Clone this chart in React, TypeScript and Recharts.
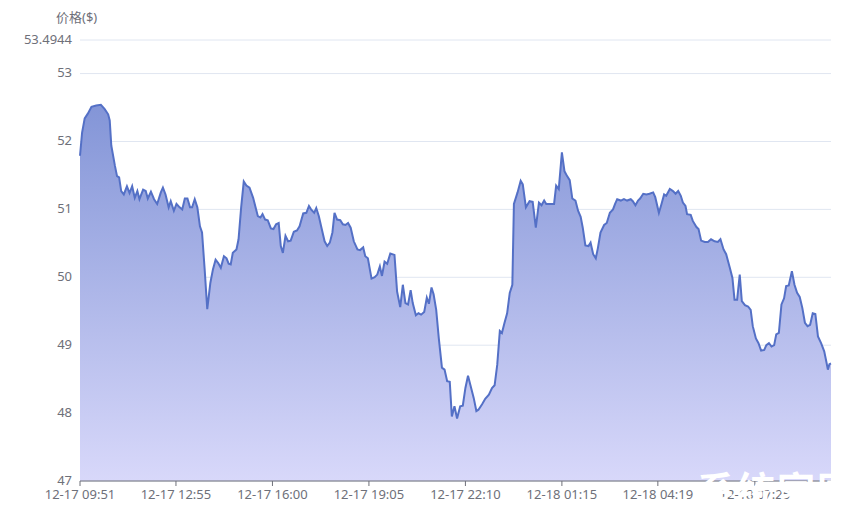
import { AreaChart, Area, XAxis, YAxis, CartesianGrid } from 'recharts'

document.body.style.margin = '0'

// minutes after 12-17 09:51
const minutes = [
  0, 4, 9, 15, 22, 31, 40, 47, 54, 57,
  60, 67, 71, 75, 79, 84, 90, 95, 100, 105,
  110, 114, 121, 126, 130, 136, 142, 148, 155, 159,
  164, 170, 174, 180, 185, 191, 196, 201, 206, 211,
  215, 220, 225, 230, 234, 239, 244, 250, 255, 260,
  265, 270, 276, 281, 285, 289, 293, 300, 304, 309,
  314, 319, 325, 332, 336, 341, 346, 350, 355, 360,
  366, 371, 376, 381, 385, 389, 394, 399, 404, 410,
  416, 421, 428, 434, 439, 443, 449, 453, 458, 463,
  469, 474, 479, 484, 488, 493, 499, 504, 509, 514,
  519, 525, 532, 537, 543, 547, 552, 559, 565, 570,
  575, 579, 584, 589, 595, 603, 608, 614, 619, 624,
  629, 634, 638, 644, 649, 654, 660, 665, 669, 674,
  678, 683, 688, 694, 699, 704, 709, 713, 718, 723,
  729, 734, 739, 744, 750, 755, 760, 764, 771, 777,
  784, 790, 795, 800, 805, 809, 814, 819, 824, 829,
  832, 839, 845, 849, 855, 862, 868, 874, 880, 885,
  890, 894, 901, 909, 913, 918, 924, 929, 934, 939,
  944, 950, 955, 960, 964, 969, 975, 979, 984, 989,
  993, 998, 1005, 1010, 1016, 1022, 1026, 1030, 1037, 1043,
  1049, 1056, 1060, 1065, 1070, 1074, 1080, 1086, 1092, 1099,
  1103, 1110, 1115, 1120, 1124, 1131, 1137, 1142, 1147, 1152,
  1156, 1161, 1164, 1171, 1175, 1182, 1186, 1191, 1198, 1204,
  1210, 1217, 1223, 1228, 1234, 1239, 1246, 1251, 1255, 1260,
  1265, 1269, 1275, 1281, 1286, 1290, 1296, 1301, 1306, 1312,
  1316, 1321, 1326, 1331, 1335, 1340, 1345, 1350, 1354, 1359,
  1365, 1370, 1375, 1380, 1385, 1390, 1395, 1400, 1405, 1410,
  1415, 1421, 1427, 1431, 1434, 1437, 1440,
]

const prices = [
  51.79, 52.13, 52.34, 52.41, 52.51, 52.53, 52.54, 52.48, 52.4, 52.31,
  51.94, 51.64, 51.49, 51.47, 51.27, 51.22, 51.34, 51.24, 51.34, 51.17,
  51.27, 51.15, 51.29, 51.27, 51.16, 51.26, 51.15, 51.08, 51.25, 51.32,
  51.22, 51.03, 51.12, 50.98, 51.08, 51.03, 51.0, 51.16, 51.16, 51.03,
  51.03, 51.15, 51.03, 50.75, 50.66, 50.12, 49.53, 49.92, 50.12, 50.26,
  50.21, 50.14, 50.31, 50.28, 50.2, 50.19, 50.36, 50.41, 50.56, 51.03,
  51.41, 51.35, 51.32, 51.17, 51.05, 50.9, 50.88, 50.93, 50.85, 50.84,
  50.72, 50.71, 50.78, 50.8, 50.46, 50.36, 50.61, 50.53, 50.54, 50.67,
  50.69, 50.75, 50.94, 50.95, 51.05, 51.0, 50.95, 51.02, 50.9, 50.73,
  50.53, 50.46, 50.51, 50.66, 50.95, 50.85, 50.84, 50.78, 50.77, 50.8,
  50.73, 50.53, 50.41, 50.4, 50.44, 50.31, 50.28, 49.98, 50.0, 50.04,
  50.16, 50.02, 50.23, 50.2, 50.35, 50.33, 49.79, 49.56, 49.89, 49.62,
  49.6, 49.81, 49.62, 49.44, 49.47, 49.45, 49.49, 49.7, 49.61, 49.85,
  49.75, 49.52, 49.1, 48.67, 48.64, 48.47, 48.46, 47.95, 48.1, 47.92,
  48.1, 48.11, 48.37, 48.55, 48.37, 48.22, 48.03, 48.05, 48.13, 48.21,
  48.27, 48.37, 48.41, 48.71, 49.21, 49.18, 49.33, 49.47, 49.77, 49.89,
  51.08, 51.25, 51.42, 51.37, 51.03, 51.12, 51.11, 50.73, 51.1, 51.06,
  51.13, 51.08, 51.08, 51.08, 51.35, 51.3, 51.84, 51.56, 51.49, 51.43,
  51.16, 51.13, 50.98, 50.89, 50.73, 50.47, 50.46, 50.51, 50.34, 50.28,
  50.43, 50.66, 50.77, 50.8, 50.95, 51.0, 51.08, 51.15, 51.13, 51.15,
  51.13, 51.15, 51.12, 51.06, 51.13, 51.16, 51.23, 51.22, 51.23, 51.25,
  51.18, 50.95, 51.08, 51.22, 51.2, 51.3, 51.27, 51.23, 51.27, 51.2,
  51.1, 51.05, 50.93, 50.92, 50.83, 50.74, 50.71, 50.54, 50.52, 50.52,
  50.56, 50.53, 50.52, 50.56, 50.41, 50.34, 50.14, 49.99, 49.67, 49.67,
  50.04, 49.65, 49.59, 49.57, 49.52, 49.28, 49.1, 49.03, 48.92, 48.93,
  49.0, 49.03, 48.98, 49.0, 49.16, 49.18, 49.6, 49.69, 49.87, 49.88,
  50.09, 49.89, 49.77, 49.71, 49.55, 49.33, 49.28, 49.3, 49.47, 49.46,
  49.13, 49.03, 48.91, 48.76, 48.64, 48.72, 48.73,
]

const xTicks = [0, 184, 369, 554, 739, 924, 1108, 1294]
const xLabels = ['12-17 09:51', '12-17 12:55', '12-17 16:00', '12-17 19:05', '12-17 22:10', '12-18 01:15', '12-18 04:19', '12-18 07:25']
const yTicks = [47, 48, 49, 50, 51, 52, 53, 53.4944]

const data = minutes.map((t, i) => ({ t, price: prices[i] }))

const font = '"Noto Sans", "Noto Sans CJK SC", sans-serif'
const grey = '#6e7079'

export default function App() {
  return (
    <div style={{ position: 'relative', width: 864, height: 514, fontFamily: font, overflow: 'hidden' }}>
      <AreaChart width={864} height={514} data={data} margin={{ top: 40, right: 33, bottom: 3, left: 10 }}>
        <defs>
          <linearGradient id="priceFill" x1="0" y1="0" x2="0" y2="1">
            <stop offset="0%" stopColor="#8395d7" />
            <stop offset="100%" stopColor="#d8d8fa" />
          </linearGradient>
        </defs>
        <CartesianGrid vertical={false} stroke="#e0e6f1" />
        <XAxis
          dataKey="t"
          type="number"
          domain={[0, 1440]}
          ticks={xTicks}
          interval={0}
          tickFormatter={(v: number) => xLabels[xTicks.indexOf(v)]}
          height={30}
          tickSize={5}
          tickMargin={4}
          axisLine={{ stroke: grey }}
          tickLine={{ stroke: grey }}
          tick={{ fill: grey, fontSize: 13, fontFamily: font }}
        />
        <YAxis
          type="number"
          domain={[47, 53.4944]}
          ticks={yTicks}
          interval={0}
          width={70}
          axisLine={false}
          tickLine={false}
          tick={{ fill: grey, fontSize: 13, fontFamily: font, dy: -1 }}
        />
        <Area
          type="linear"
          dataKey="price"
          stroke="#5470c6"
          strokeWidth={2}
          fill="url(#priceFill)"
          fillOpacity={1}
          dot={false}
          activeDot={false}
          isAnimationActive={false}
        />
      </AreaChart>
      <div style={{ position: 'absolute', left: 56, top: 7, fontSize: 13, color: grey }}>价格($)</div>
      <div style={{ position: 'absolute', left: 697, top: 460, fontSize: 38, fontWeight: 700, color: '#ffffff', letterSpacing: 2, whiteSpace: 'nowrap' }}>系统家园</div>
    </div>
  )
}
